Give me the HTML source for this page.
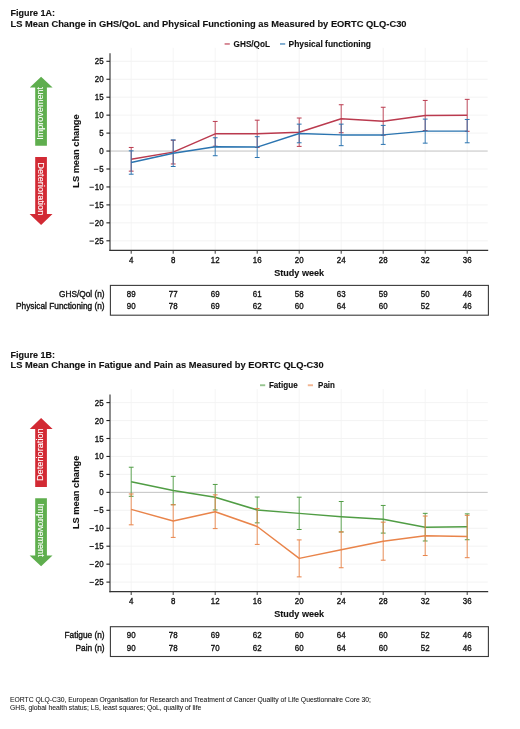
<!DOCTYPE html>
<html><head><meta charset="utf-8"><title>Figure 1</title>
<style>html,body{margin:0;padding:0;background:#fff;} svg{display:block;filter:blur(0.3px);} text{stroke:#111;stroke-width:0.35px;} text[fill='#fff']{stroke:#fff;stroke-width:0.1px;} text.fn{stroke-width:0.05px;} text[font-weight='bold']{stroke-width:0.12px;}</style></head>
<body>
<svg width="520" height="729" viewBox="0 0 520 729" font-family="'Liberation Sans', sans-serif" fill="#111">
<rect width="520" height="729" fill="#fff"/>
<text x="10.5" y="16.40" font-size="9.6" font-weight="bold" textLength="44.6" lengthAdjust="spacingAndGlyphs">Figure 1A:</text>
<text x="10.5" y="27.00" font-size="9.6" font-weight="bold" textLength="396.0" lengthAdjust="spacingAndGlyphs">LS Mean Change in GHS/QoL and Physical Functioning as Measured by EORTC QLQ-C30</text>
<rect x="224.6" y="43.00" width="5.2" height="1.9" fill="#ba3a4e" opacity="0.6"/>
<text x="233.6" y="46.80" font-size="8.6" font-weight="bold" textLength="36.4" lengthAdjust="spacingAndGlyphs">GHS/QoL</text>
<rect x="280.0" y="43.00" width="5.2" height="1.9" fill="#2a74b0" opacity="0.6"/>
<text x="288.5" y="46.80" font-size="8.6" font-weight="bold" textLength="82.5" lengthAdjust="spacingAndGlyphs">Physical functioning</text>
<line x1="110.0" x2="487.7" y1="240.80" y2="240.80" stroke="#f0f0f0" stroke-width="0.8"/>
<line x1="110.0" x2="487.7" y1="222.85" y2="222.85" stroke="#f0f0f0" stroke-width="0.8"/>
<line x1="110.0" x2="487.7" y1="204.90" y2="204.90" stroke="#f0f0f0" stroke-width="0.8"/>
<line x1="110.0" x2="487.7" y1="186.95" y2="186.95" stroke="#f0f0f0" stroke-width="0.8"/>
<line x1="110.0" x2="487.7" y1="169.00" y2="169.00" stroke="#f0f0f0" stroke-width="0.8"/>
<line x1="110.0" x2="487.7" y1="133.10" y2="133.10" stroke="#f0f0f0" stroke-width="0.8"/>
<line x1="110.0" x2="487.7" y1="115.15" y2="115.15" stroke="#f0f0f0" stroke-width="0.8"/>
<line x1="110.0" x2="487.7" y1="97.20" y2="97.20" stroke="#f0f0f0" stroke-width="0.8"/>
<line x1="110.0" x2="487.7" y1="79.25" y2="79.25" stroke="#f0f0f0" stroke-width="0.8"/>
<line x1="110.0" x2="487.7" y1="61.30" y2="61.30" stroke="#f0f0f0" stroke-width="0.8"/>
<line x1="131.20" x2="131.20" y1="47.80" y2="250.30" stroke="#f2f2f2" stroke-width="0.8"/>
<line x1="173.20" x2="173.20" y1="47.80" y2="250.30" stroke="#f2f2f2" stroke-width="0.8"/>
<line x1="215.20" x2="215.20" y1="47.80" y2="250.30" stroke="#f2f2f2" stroke-width="0.8"/>
<line x1="257.20" x2="257.20" y1="47.80" y2="250.30" stroke="#f2f2f2" stroke-width="0.8"/>
<line x1="299.20" x2="299.20" y1="47.80" y2="250.30" stroke="#f2f2f2" stroke-width="0.8"/>
<line x1="341.20" x2="341.20" y1="47.80" y2="250.30" stroke="#f2f2f2" stroke-width="0.8"/>
<line x1="383.20" x2="383.20" y1="47.80" y2="250.30" stroke="#f2f2f2" stroke-width="0.8"/>
<line x1="425.20" x2="425.20" y1="47.80" y2="250.30" stroke="#f2f2f2" stroke-width="0.8"/>
<line x1="467.20" x2="467.20" y1="47.80" y2="250.30" stroke="#f2f2f2" stroke-width="0.8"/>
<line x1="110.0" x2="487.7" y1="151.05" y2="151.05" stroke="#c2c2c2" stroke-width="1"/>
<line x1="131.20" x2="131.20" y1="147.46" y2="171.15" stroke="#ba3a4e" stroke-width="0.9"/>
<line x1="128.80" x2="133.60" y1="147.46" y2="147.46" stroke="#ba3a4e" stroke-width="1"/>
<line x1="128.80" x2="133.60" y1="171.15" y2="171.15" stroke="#ba3a4e" stroke-width="1"/>
<line x1="173.20" x2="173.20" y1="140.28" y2="163.97" stroke="#ba3a4e" stroke-width="0.9"/>
<line x1="170.80" x2="175.60" y1="140.28" y2="140.28" stroke="#ba3a4e" stroke-width="1"/>
<line x1="170.80" x2="175.60" y1="163.97" y2="163.97" stroke="#ba3a4e" stroke-width="1"/>
<line x1="215.20" x2="215.20" y1="121.43" y2="146.20" stroke="#ba3a4e" stroke-width="0.9"/>
<line x1="212.80" x2="217.60" y1="121.43" y2="121.43" stroke="#ba3a4e" stroke-width="1"/>
<line x1="212.80" x2="217.60" y1="146.20" y2="146.20" stroke="#ba3a4e" stroke-width="1"/>
<line x1="257.20" x2="257.20" y1="120.18" y2="147.46" stroke="#ba3a4e" stroke-width="0.9"/>
<line x1="254.80" x2="259.60" y1="120.18" y2="120.18" stroke="#ba3a4e" stroke-width="1"/>
<line x1="254.80" x2="259.60" y1="147.46" y2="147.46" stroke="#ba3a4e" stroke-width="1"/>
<line x1="299.20" x2="299.20" y1="118.02" y2="146.38" stroke="#ba3a4e" stroke-width="0.9"/>
<line x1="296.80" x2="301.60" y1="118.02" y2="118.02" stroke="#ba3a4e" stroke-width="1"/>
<line x1="296.80" x2="301.60" y1="146.38" y2="146.38" stroke="#ba3a4e" stroke-width="1"/>
<line x1="341.20" x2="341.20" y1="104.74" y2="132.74" stroke="#ba3a4e" stroke-width="0.9"/>
<line x1="338.80" x2="343.60" y1="104.74" y2="104.74" stroke="#ba3a4e" stroke-width="1"/>
<line x1="338.80" x2="343.60" y1="132.74" y2="132.74" stroke="#ba3a4e" stroke-width="1"/>
<line x1="383.20" x2="383.20" y1="107.25" y2="135.25" stroke="#ba3a4e" stroke-width="0.9"/>
<line x1="380.80" x2="385.60" y1="107.25" y2="107.25" stroke="#ba3a4e" stroke-width="1"/>
<line x1="380.80" x2="385.60" y1="135.25" y2="135.25" stroke="#ba3a4e" stroke-width="1"/>
<line x1="425.20" x2="425.20" y1="100.43" y2="130.59" stroke="#ba3a4e" stroke-width="0.9"/>
<line x1="422.80" x2="427.60" y1="100.43" y2="100.43" stroke="#ba3a4e" stroke-width="1"/>
<line x1="422.80" x2="427.60" y1="130.59" y2="130.59" stroke="#ba3a4e" stroke-width="1"/>
<line x1="467.20" x2="467.20" y1="99.35" y2="131.31" stroke="#ba3a4e" stroke-width="0.9"/>
<line x1="464.80" x2="469.60" y1="99.35" y2="99.35" stroke="#ba3a4e" stroke-width="1"/>
<line x1="464.80" x2="469.60" y1="131.31" y2="131.31" stroke="#ba3a4e" stroke-width="1"/>
<polyline points="131.20,159.31 173.20,152.13 215.20,133.82 257.20,133.82 299.20,132.20 341.20,118.74 383.20,121.25 425.20,115.51 467.20,115.33" fill="none" stroke="#ba3a4e" stroke-width="1.45" stroke-linejoin="round"/>
<line x1="131.20" x2="131.20" y1="150.87" y2="174.21" stroke="#2a74b0" stroke-width="0.9"/>
<line x1="128.80" x2="133.60" y1="150.87" y2="150.87" stroke="#2a74b0" stroke-width="1"/>
<line x1="128.80" x2="133.60" y1="174.21" y2="174.21" stroke="#2a74b0" stroke-width="1"/>
<line x1="173.20" x2="173.20" y1="139.92" y2="166.49" stroke="#2a74b0" stroke-width="0.9"/>
<line x1="170.80" x2="175.60" y1="139.92" y2="139.92" stroke="#2a74b0" stroke-width="1"/>
<line x1="170.80" x2="175.60" y1="166.49" y2="166.49" stroke="#2a74b0" stroke-width="1"/>
<line x1="215.20" x2="215.20" y1="137.77" y2="155.72" stroke="#2a74b0" stroke-width="0.9"/>
<line x1="212.80" x2="217.60" y1="137.77" y2="137.77" stroke="#2a74b0" stroke-width="1"/>
<line x1="212.80" x2="217.60" y1="155.72" y2="155.72" stroke="#2a74b0" stroke-width="1"/>
<line x1="257.20" x2="257.20" y1="136.69" y2="157.51" stroke="#2a74b0" stroke-width="0.9"/>
<line x1="254.80" x2="259.60" y1="136.69" y2="136.69" stroke="#2a74b0" stroke-width="1"/>
<line x1="254.80" x2="259.60" y1="157.51" y2="157.51" stroke="#2a74b0" stroke-width="1"/>
<line x1="299.20" x2="299.20" y1="124.13" y2="142.79" stroke="#2a74b0" stroke-width="0.9"/>
<line x1="296.80" x2="301.60" y1="124.13" y2="124.13" stroke="#2a74b0" stroke-width="1"/>
<line x1="296.80" x2="301.60" y1="142.79" y2="142.79" stroke="#2a74b0" stroke-width="1"/>
<line x1="341.20" x2="341.20" y1="124.13" y2="145.67" stroke="#2a74b0" stroke-width="0.9"/>
<line x1="338.80" x2="343.60" y1="124.13" y2="124.13" stroke="#2a74b0" stroke-width="1"/>
<line x1="338.80" x2="343.60" y1="145.67" y2="145.67" stroke="#2a74b0" stroke-width="1"/>
<line x1="383.20" x2="383.20" y1="125.38" y2="144.41" stroke="#2a74b0" stroke-width="0.9"/>
<line x1="380.80" x2="385.60" y1="125.38" y2="125.38" stroke="#2a74b0" stroke-width="1"/>
<line x1="380.80" x2="385.60" y1="144.41" y2="144.41" stroke="#2a74b0" stroke-width="1"/>
<line x1="425.20" x2="425.20" y1="119.10" y2="143.15" stroke="#2a74b0" stroke-width="0.9"/>
<line x1="422.80" x2="427.60" y1="119.10" y2="119.10" stroke="#2a74b0" stroke-width="1"/>
<line x1="422.80" x2="427.60" y1="143.15" y2="143.15" stroke="#2a74b0" stroke-width="1"/>
<line x1="467.20" x2="467.20" y1="119.46" y2="142.79" stroke="#2a74b0" stroke-width="0.9"/>
<line x1="464.80" x2="469.60" y1="119.46" y2="119.46" stroke="#2a74b0" stroke-width="1"/>
<line x1="464.80" x2="469.60" y1="142.79" y2="142.79" stroke="#2a74b0" stroke-width="1"/>
<polyline points="131.20,162.54 173.20,153.20 215.20,146.74 257.20,147.10 299.20,133.46 341.20,134.90 383.20,134.90 425.20,131.13 467.20,131.13" fill="none" stroke="#2a74b0" stroke-width="1.45" stroke-linejoin="round"/>
<line x1="110.0" x2="110.0" y1="53.30" y2="250.90" stroke="#666" stroke-width="1.5"/>
<line x1="109.4" x2="488.2" y1="250.30" y2="250.30" stroke="#333" stroke-width="1.3"/>
<line x1="106.4" x2="110.0" y1="240.80" y2="240.80" stroke="#222" stroke-width="1.1"/>
<text transform="translate(103.6 243.80) scale(0.9 1)" font-size="8.8" text-anchor="end">25</text>
<line x1="89.50" x2="93.90" y1="241.10" y2="241.10" stroke="#111" stroke-width="0.9"/>
<line x1="106.4" x2="110.0" y1="222.85" y2="222.85" stroke="#222" stroke-width="1.1"/>
<text transform="translate(103.6 225.85) scale(0.9 1)" font-size="8.8" text-anchor="end">20</text>
<line x1="89.50" x2="93.90" y1="223.15" y2="223.15" stroke="#111" stroke-width="0.9"/>
<line x1="106.4" x2="110.0" y1="204.90" y2="204.90" stroke="#222" stroke-width="1.1"/>
<text transform="translate(103.6 207.90) scale(0.9 1)" font-size="8.8" text-anchor="end">15</text>
<line x1="89.50" x2="93.90" y1="205.20" y2="205.20" stroke="#111" stroke-width="0.9"/>
<line x1="106.4" x2="110.0" y1="186.95" y2="186.95" stroke="#222" stroke-width="1.1"/>
<text transform="translate(103.6 189.95) scale(0.9 1)" font-size="8.8" text-anchor="end">10</text>
<line x1="89.50" x2="93.90" y1="187.25" y2="187.25" stroke="#111" stroke-width="0.9"/>
<line x1="106.4" x2="110.0" y1="169.00" y2="169.00" stroke="#222" stroke-width="1.1"/>
<text transform="translate(103.6 172.00) scale(0.9 1)" font-size="8.8" text-anchor="end">5</text>
<line x1="93.90" x2="98.30" y1="169.30" y2="169.30" stroke="#111" stroke-width="0.9"/>
<line x1="106.4" x2="110.0" y1="151.05" y2="151.05" stroke="#222" stroke-width="1.1"/>
<text transform="translate(103.6 154.05) scale(0.9 1)" font-size="8.8" text-anchor="end">0</text>
<line x1="106.4" x2="110.0" y1="133.10" y2="133.10" stroke="#222" stroke-width="1.1"/>
<text transform="translate(103.6 136.10) scale(0.9 1)" font-size="8.8" text-anchor="end">5</text>
<line x1="106.4" x2="110.0" y1="115.15" y2="115.15" stroke="#222" stroke-width="1.1"/>
<text transform="translate(103.6 118.15) scale(0.9 1)" font-size="8.8" text-anchor="end">10</text>
<line x1="106.4" x2="110.0" y1="97.20" y2="97.20" stroke="#222" stroke-width="1.1"/>
<text transform="translate(103.6 100.20) scale(0.9 1)" font-size="8.8" text-anchor="end">15</text>
<line x1="106.4" x2="110.0" y1="79.25" y2="79.25" stroke="#222" stroke-width="1.1"/>
<text transform="translate(103.6 82.25) scale(0.9 1)" font-size="8.8" text-anchor="end">20</text>
<line x1="106.4" x2="110.0" y1="61.30" y2="61.30" stroke="#222" stroke-width="1.1"/>
<text transform="translate(103.6 64.30) scale(0.9 1)" font-size="8.8" text-anchor="end">25</text>
<line x1="131.20" x2="131.20" y1="250.30" y2="253.70" stroke="#3a3a3a" stroke-width="1"/>
<text transform="translate(131.20 262.50) scale(0.9 1)" font-size="8.8" text-anchor="middle">4</text>
<line x1="173.20" x2="173.20" y1="250.30" y2="253.70" stroke="#3a3a3a" stroke-width="1"/>
<text transform="translate(173.20 262.50) scale(0.9 1)" font-size="8.8" text-anchor="middle">8</text>
<line x1="215.20" x2="215.20" y1="250.30" y2="253.70" stroke="#3a3a3a" stroke-width="1"/>
<text transform="translate(215.20 262.50) scale(0.9 1)" font-size="8.8" text-anchor="middle">12</text>
<line x1="257.20" x2="257.20" y1="250.30" y2="253.70" stroke="#3a3a3a" stroke-width="1"/>
<text transform="translate(257.20 262.50) scale(0.9 1)" font-size="8.8" text-anchor="middle">16</text>
<line x1="299.20" x2="299.20" y1="250.30" y2="253.70" stroke="#3a3a3a" stroke-width="1"/>
<text transform="translate(299.20 262.50) scale(0.9 1)" font-size="8.8" text-anchor="middle">20</text>
<line x1="341.20" x2="341.20" y1="250.30" y2="253.70" stroke="#3a3a3a" stroke-width="1"/>
<text transform="translate(341.20 262.50) scale(0.9 1)" font-size="8.8" text-anchor="middle">24</text>
<line x1="383.20" x2="383.20" y1="250.30" y2="253.70" stroke="#3a3a3a" stroke-width="1"/>
<text transform="translate(383.20 262.50) scale(0.9 1)" font-size="8.8" text-anchor="middle">28</text>
<line x1="425.20" x2="425.20" y1="250.30" y2="253.70" stroke="#3a3a3a" stroke-width="1"/>
<text transform="translate(425.20 262.50) scale(0.9 1)" font-size="8.8" text-anchor="middle">32</text>
<line x1="467.20" x2="467.20" y1="250.30" y2="253.70" stroke="#3a3a3a" stroke-width="1"/>
<text transform="translate(467.20 262.50) scale(0.9 1)" font-size="8.8" text-anchor="middle">36</text>
<text x="299.2" y="275.80" font-size="9.2" font-weight="bold" text-anchor="middle" textLength="50" lengthAdjust="spacingAndGlyphs">Study week</text>
<text transform="translate(79.1 151.05) rotate(-90)" font-size="9.3" font-weight="bold" text-anchor="middle" textLength="73.4" lengthAdjust="spacingAndGlyphs">LS mean change</text>
<rect x="110.4" y="285.40" width="378" height="29.8" fill="none" stroke="#3a3a3a" stroke-width="1.1"/>
<text x="104.6" y="296.80" font-size="8.3" text-anchor="end">GHS/Qol (n)</text>
<text transform="translate(131.20 296.80) scale(0.9 1)" font-size="8.8" text-anchor="middle">89</text>
<text transform="translate(173.20 296.80) scale(0.9 1)" font-size="8.8" text-anchor="middle">77</text>
<text transform="translate(215.20 296.80) scale(0.9 1)" font-size="8.8" text-anchor="middle">69</text>
<text transform="translate(257.20 296.80) scale(0.9 1)" font-size="8.8" text-anchor="middle">61</text>
<text transform="translate(299.20 296.80) scale(0.9 1)" font-size="8.8" text-anchor="middle">58</text>
<text transform="translate(341.20 296.80) scale(0.9 1)" font-size="8.8" text-anchor="middle">63</text>
<text transform="translate(383.20 296.80) scale(0.9 1)" font-size="8.8" text-anchor="middle">59</text>
<text transform="translate(425.20 296.80) scale(0.9 1)" font-size="8.8" text-anchor="middle">50</text>
<text transform="translate(467.20 296.80) scale(0.9 1)" font-size="8.8" text-anchor="middle">46</text>
<text x="104.6" y="309.20" font-size="8.3" text-anchor="end">Physical Functioning (n)</text>
<text transform="translate(131.20 309.20) scale(0.9 1)" font-size="8.8" text-anchor="middle">90</text>
<text transform="translate(173.20 309.20) scale(0.9 1)" font-size="8.8" text-anchor="middle">78</text>
<text transform="translate(215.20 309.20) scale(0.9 1)" font-size="8.8" text-anchor="middle">69</text>
<text transform="translate(257.20 309.20) scale(0.9 1)" font-size="8.8" text-anchor="middle">62</text>
<text transform="translate(299.20 309.20) scale(0.9 1)" font-size="8.8" text-anchor="middle">60</text>
<text transform="translate(341.20 309.20) scale(0.9 1)" font-size="8.8" text-anchor="middle">64</text>
<text transform="translate(383.20 309.20) scale(0.9 1)" font-size="8.8" text-anchor="middle">60</text>
<text transform="translate(425.20 309.20) scale(0.9 1)" font-size="8.8" text-anchor="middle">52</text>
<text transform="translate(467.20 309.20) scale(0.9 1)" font-size="8.8" text-anchor="middle">46</text>
<polygon points="41.1,76.80 52.6,87.60 46.9,87.60 46.9,145.70 35.2,145.70 35.2,87.60 29.8,87.60" fill="#5fae4e"/>
<text transform="translate(43.4 113.40) rotate(-90)" font-size="8.7" fill="#fff" text-anchor="middle" textLength="52.8" lengthAdjust="spacingAndGlyphs">Improvement</text>
<polygon points="35.2,156.90 46.9,156.90 46.9,214.10 52.5,214.10 41.1,225.00 29.6,214.10 35.2,214.10" fill="#d22a34"/>
<text transform="translate(38.3 188.80) rotate(90)" font-size="8.7" fill="#fff" text-anchor="middle" textLength="53.2" lengthAdjust="spacingAndGlyphs">Deterioration</text>
<text x="10.5" y="357.70" font-size="9.6" font-weight="bold" textLength="44.6" lengthAdjust="spacingAndGlyphs">Figure 1B:</text>
<text x="10.5" y="368.30" font-size="9.6" font-weight="bold" textLength="313.2" lengthAdjust="spacingAndGlyphs">LS Mean Change in Fatigue and Pain as Measured by EORTC QLQ-C30</text>
<rect x="260.0" y="384.30" width="5.2" height="1.9" fill="#509d44" opacity="0.6"/>
<text x="268.9" y="388.10" font-size="8.6" font-weight="bold" textLength="28.8" lengthAdjust="spacingAndGlyphs">Fatigue</text>
<rect x="307.8" y="384.30" width="5.2" height="1.9" fill="#e9844a" opacity="0.6"/>
<text x="318.1" y="388.10" font-size="8.6" font-weight="bold" textLength="16.8" lengthAdjust="spacingAndGlyphs">Pain</text>
<line x1="110.0" x2="487.7" y1="582.10" y2="582.10" stroke="#f0f0f0" stroke-width="0.8"/>
<line x1="110.0" x2="487.7" y1="564.15" y2="564.15" stroke="#f0f0f0" stroke-width="0.8"/>
<line x1="110.0" x2="487.7" y1="546.20" y2="546.20" stroke="#f0f0f0" stroke-width="0.8"/>
<line x1="110.0" x2="487.7" y1="528.25" y2="528.25" stroke="#f0f0f0" stroke-width="0.8"/>
<line x1="110.0" x2="487.7" y1="510.30" y2="510.30" stroke="#f0f0f0" stroke-width="0.8"/>
<line x1="110.0" x2="487.7" y1="474.40" y2="474.40" stroke="#f0f0f0" stroke-width="0.8"/>
<line x1="110.0" x2="487.7" y1="456.45" y2="456.45" stroke="#f0f0f0" stroke-width="0.8"/>
<line x1="110.0" x2="487.7" y1="438.50" y2="438.50" stroke="#f0f0f0" stroke-width="0.8"/>
<line x1="110.0" x2="487.7" y1="420.55" y2="420.55" stroke="#f0f0f0" stroke-width="0.8"/>
<line x1="110.0" x2="487.7" y1="402.60" y2="402.60" stroke="#f0f0f0" stroke-width="0.8"/>
<line x1="131.20" x2="131.20" y1="389.10" y2="591.60" stroke="#f2f2f2" stroke-width="0.8"/>
<line x1="173.20" x2="173.20" y1="389.10" y2="591.60" stroke="#f2f2f2" stroke-width="0.8"/>
<line x1="215.20" x2="215.20" y1="389.10" y2="591.60" stroke="#f2f2f2" stroke-width="0.8"/>
<line x1="257.20" x2="257.20" y1="389.10" y2="591.60" stroke="#f2f2f2" stroke-width="0.8"/>
<line x1="299.20" x2="299.20" y1="389.10" y2="591.60" stroke="#f2f2f2" stroke-width="0.8"/>
<line x1="341.20" x2="341.20" y1="389.10" y2="591.60" stroke="#f2f2f2" stroke-width="0.8"/>
<line x1="383.20" x2="383.20" y1="389.10" y2="591.60" stroke="#f2f2f2" stroke-width="0.8"/>
<line x1="425.20" x2="425.20" y1="389.10" y2="591.60" stroke="#f2f2f2" stroke-width="0.8"/>
<line x1="467.20" x2="467.20" y1="389.10" y2="591.60" stroke="#f2f2f2" stroke-width="0.8"/>
<line x1="110.0" x2="487.7" y1="492.35" y2="492.35" stroke="#c2c2c2" stroke-width="1"/>
<line x1="131.20" x2="131.20" y1="467.22" y2="496.30" stroke="#509d44" stroke-width="0.9"/>
<line x1="128.80" x2="133.60" y1="467.22" y2="467.22" stroke="#509d44" stroke-width="1"/>
<line x1="128.80" x2="133.60" y1="496.30" y2="496.30" stroke="#509d44" stroke-width="1"/>
<line x1="173.20" x2="173.20" y1="476.37" y2="504.74" stroke="#509d44" stroke-width="0.9"/>
<line x1="170.80" x2="175.60" y1="476.37" y2="476.37" stroke="#509d44" stroke-width="1"/>
<line x1="170.80" x2="175.60" y1="504.74" y2="504.74" stroke="#509d44" stroke-width="1"/>
<line x1="215.20" x2="215.20" y1="484.45" y2="509.94" stroke="#509d44" stroke-width="0.9"/>
<line x1="212.80" x2="217.60" y1="484.45" y2="484.45" stroke="#509d44" stroke-width="1"/>
<line x1="212.80" x2="217.60" y1="509.94" y2="509.94" stroke="#509d44" stroke-width="1"/>
<line x1="257.20" x2="257.20" y1="497.02" y2="522.87" stroke="#509d44" stroke-width="0.9"/>
<line x1="254.80" x2="259.60" y1="497.02" y2="497.02" stroke="#509d44" stroke-width="1"/>
<line x1="254.80" x2="259.60" y1="522.87" y2="522.87" stroke="#509d44" stroke-width="1"/>
<line x1="299.20" x2="299.20" y1="497.20" y2="529.51" stroke="#509d44" stroke-width="0.9"/>
<line x1="296.80" x2="301.60" y1="497.20" y2="497.20" stroke="#509d44" stroke-width="1"/>
<line x1="296.80" x2="301.60" y1="529.51" y2="529.51" stroke="#509d44" stroke-width="1"/>
<line x1="341.20" x2="341.20" y1="501.50" y2="532.02" stroke="#509d44" stroke-width="0.9"/>
<line x1="338.80" x2="343.60" y1="501.50" y2="501.50" stroke="#509d44" stroke-width="1"/>
<line x1="338.80" x2="343.60" y1="532.02" y2="532.02" stroke="#509d44" stroke-width="1"/>
<line x1="383.20" x2="383.20" y1="505.45" y2="533.10" stroke="#509d44" stroke-width="0.9"/>
<line x1="380.80" x2="385.60" y1="505.45" y2="505.45" stroke="#509d44" stroke-width="1"/>
<line x1="380.80" x2="385.60" y1="533.10" y2="533.10" stroke="#509d44" stroke-width="1"/>
<line x1="425.20" x2="425.20" y1="513.35" y2="540.99" stroke="#509d44" stroke-width="0.9"/>
<line x1="422.80" x2="427.60" y1="513.35" y2="513.35" stroke="#509d44" stroke-width="1"/>
<line x1="422.80" x2="427.60" y1="540.99" y2="540.99" stroke="#509d44" stroke-width="1"/>
<line x1="467.20" x2="467.20" y1="513.89" y2="539.74" stroke="#509d44" stroke-width="0.9"/>
<line x1="464.80" x2="469.60" y1="513.89" y2="513.89" stroke="#509d44" stroke-width="1"/>
<line x1="464.80" x2="469.60" y1="539.74" y2="539.74" stroke="#509d44" stroke-width="1"/>
<polyline points="131.20,481.76 173.20,490.56 215.20,497.20 257.20,509.94 299.20,513.35 341.20,516.76 383.20,519.27 425.20,527.17 467.20,526.81" fill="none" stroke="#509d44" stroke-width="1.45" stroke-linejoin="round"/>
<line x1="131.20" x2="131.20" y1="493.97" y2="524.84" stroke="#e9844a" stroke-width="0.9"/>
<line x1="128.80" x2="133.60" y1="493.97" y2="493.97" stroke="#e9844a" stroke-width="1"/>
<line x1="128.80" x2="133.60" y1="524.84" y2="524.84" stroke="#e9844a" stroke-width="1"/>
<line x1="173.20" x2="173.20" y1="504.74" y2="537.40" stroke="#e9844a" stroke-width="0.9"/>
<line x1="170.80" x2="175.60" y1="504.74" y2="504.74" stroke="#e9844a" stroke-width="1"/>
<line x1="170.80" x2="175.60" y1="537.40" y2="537.40" stroke="#e9844a" stroke-width="1"/>
<line x1="215.20" x2="215.20" y1="494.86" y2="528.61" stroke="#e9844a" stroke-width="0.9"/>
<line x1="212.80" x2="217.60" y1="494.86" y2="494.86" stroke="#e9844a" stroke-width="1"/>
<line x1="212.80" x2="217.60" y1="528.61" y2="528.61" stroke="#e9844a" stroke-width="1"/>
<line x1="257.20" x2="257.20" y1="508.50" y2="544.40" stroke="#e9844a" stroke-width="0.9"/>
<line x1="254.80" x2="259.60" y1="508.50" y2="508.50" stroke="#e9844a" stroke-width="1"/>
<line x1="254.80" x2="259.60" y1="544.40" y2="544.40" stroke="#e9844a" stroke-width="1"/>
<line x1="299.20" x2="299.20" y1="539.92" y2="576.89" stroke="#e9844a" stroke-width="0.9"/>
<line x1="296.80" x2="301.60" y1="539.92" y2="539.92" stroke="#e9844a" stroke-width="1"/>
<line x1="296.80" x2="301.60" y1="576.89" y2="576.89" stroke="#e9844a" stroke-width="1"/>
<line x1="341.20" x2="341.20" y1="531.84" y2="567.74" stroke="#e9844a" stroke-width="0.9"/>
<line x1="338.80" x2="343.60" y1="531.84" y2="531.84" stroke="#e9844a" stroke-width="1"/>
<line x1="338.80" x2="343.60" y1="567.74" y2="567.74" stroke="#e9844a" stroke-width="1"/>
<line x1="383.20" x2="383.20" y1="522.15" y2="560.20" stroke="#e9844a" stroke-width="0.9"/>
<line x1="380.80" x2="385.60" y1="522.15" y2="522.15" stroke="#e9844a" stroke-width="1"/>
<line x1="380.80" x2="385.60" y1="560.20" y2="560.20" stroke="#e9844a" stroke-width="1"/>
<line x1="425.20" x2="425.20" y1="516.04" y2="555.53" stroke="#e9844a" stroke-width="0.9"/>
<line x1="422.80" x2="427.60" y1="516.04" y2="516.04" stroke="#e9844a" stroke-width="1"/>
<line x1="422.80" x2="427.60" y1="555.53" y2="555.53" stroke="#e9844a" stroke-width="1"/>
<line x1="467.20" x2="467.20" y1="515.33" y2="557.69" stroke="#e9844a" stroke-width="0.9"/>
<line x1="464.80" x2="469.60" y1="515.33" y2="515.33" stroke="#e9844a" stroke-width="1"/>
<line x1="464.80" x2="469.60" y1="557.69" y2="557.69" stroke="#e9844a" stroke-width="1"/>
<polyline points="131.20,509.40 173.20,521.07 215.20,511.74 257.20,526.46 299.20,558.41 341.20,549.79 383.20,541.17 425.20,535.79 467.20,536.51" fill="none" stroke="#e9844a" stroke-width="1.45" stroke-linejoin="round"/>
<line x1="110.0" x2="110.0" y1="394.60" y2="592.20" stroke="#666" stroke-width="1.5"/>
<line x1="109.4" x2="488.2" y1="591.60" y2="591.60" stroke="#333" stroke-width="1.3"/>
<line x1="106.4" x2="110.0" y1="582.10" y2="582.10" stroke="#222" stroke-width="1.1"/>
<text transform="translate(103.6 585.10) scale(0.9 1)" font-size="8.8" text-anchor="end">25</text>
<line x1="89.50" x2="93.90" y1="582.40" y2="582.40" stroke="#111" stroke-width="0.9"/>
<line x1="106.4" x2="110.0" y1="564.15" y2="564.15" stroke="#222" stroke-width="1.1"/>
<text transform="translate(103.6 567.15) scale(0.9 1)" font-size="8.8" text-anchor="end">20</text>
<line x1="89.50" x2="93.90" y1="564.45" y2="564.45" stroke="#111" stroke-width="0.9"/>
<line x1="106.4" x2="110.0" y1="546.20" y2="546.20" stroke="#222" stroke-width="1.1"/>
<text transform="translate(103.6 549.20) scale(0.9 1)" font-size="8.8" text-anchor="end">15</text>
<line x1="89.50" x2="93.90" y1="546.50" y2="546.50" stroke="#111" stroke-width="0.9"/>
<line x1="106.4" x2="110.0" y1="528.25" y2="528.25" stroke="#222" stroke-width="1.1"/>
<text transform="translate(103.6 531.25) scale(0.9 1)" font-size="8.8" text-anchor="end">10</text>
<line x1="89.50" x2="93.90" y1="528.55" y2="528.55" stroke="#111" stroke-width="0.9"/>
<line x1="106.4" x2="110.0" y1="510.30" y2="510.30" stroke="#222" stroke-width="1.1"/>
<text transform="translate(103.6 513.30) scale(0.9 1)" font-size="8.8" text-anchor="end">5</text>
<line x1="93.90" x2="98.30" y1="510.60" y2="510.60" stroke="#111" stroke-width="0.9"/>
<line x1="106.4" x2="110.0" y1="492.35" y2="492.35" stroke="#222" stroke-width="1.1"/>
<text transform="translate(103.6 495.35) scale(0.9 1)" font-size="8.8" text-anchor="end">0</text>
<line x1="106.4" x2="110.0" y1="474.40" y2="474.40" stroke="#222" stroke-width="1.1"/>
<text transform="translate(103.6 477.40) scale(0.9 1)" font-size="8.8" text-anchor="end">5</text>
<line x1="106.4" x2="110.0" y1="456.45" y2="456.45" stroke="#222" stroke-width="1.1"/>
<text transform="translate(103.6 459.45) scale(0.9 1)" font-size="8.8" text-anchor="end">10</text>
<line x1="106.4" x2="110.0" y1="438.50" y2="438.50" stroke="#222" stroke-width="1.1"/>
<text transform="translate(103.6 441.50) scale(0.9 1)" font-size="8.8" text-anchor="end">15</text>
<line x1="106.4" x2="110.0" y1="420.55" y2="420.55" stroke="#222" stroke-width="1.1"/>
<text transform="translate(103.6 423.55) scale(0.9 1)" font-size="8.8" text-anchor="end">20</text>
<line x1="106.4" x2="110.0" y1="402.60" y2="402.60" stroke="#222" stroke-width="1.1"/>
<text transform="translate(103.6 405.60) scale(0.9 1)" font-size="8.8" text-anchor="end">25</text>
<line x1="131.20" x2="131.20" y1="591.60" y2="595.00" stroke="#3a3a3a" stroke-width="1"/>
<text transform="translate(131.20 603.80) scale(0.9 1)" font-size="8.8" text-anchor="middle">4</text>
<line x1="173.20" x2="173.20" y1="591.60" y2="595.00" stroke="#3a3a3a" stroke-width="1"/>
<text transform="translate(173.20 603.80) scale(0.9 1)" font-size="8.8" text-anchor="middle">8</text>
<line x1="215.20" x2="215.20" y1="591.60" y2="595.00" stroke="#3a3a3a" stroke-width="1"/>
<text transform="translate(215.20 603.80) scale(0.9 1)" font-size="8.8" text-anchor="middle">12</text>
<line x1="257.20" x2="257.20" y1="591.60" y2="595.00" stroke="#3a3a3a" stroke-width="1"/>
<text transform="translate(257.20 603.80) scale(0.9 1)" font-size="8.8" text-anchor="middle">16</text>
<line x1="299.20" x2="299.20" y1="591.60" y2="595.00" stroke="#3a3a3a" stroke-width="1"/>
<text transform="translate(299.20 603.80) scale(0.9 1)" font-size="8.8" text-anchor="middle">20</text>
<line x1="341.20" x2="341.20" y1="591.60" y2="595.00" stroke="#3a3a3a" stroke-width="1"/>
<text transform="translate(341.20 603.80) scale(0.9 1)" font-size="8.8" text-anchor="middle">24</text>
<line x1="383.20" x2="383.20" y1="591.60" y2="595.00" stroke="#3a3a3a" stroke-width="1"/>
<text transform="translate(383.20 603.80) scale(0.9 1)" font-size="8.8" text-anchor="middle">28</text>
<line x1="425.20" x2="425.20" y1="591.60" y2="595.00" stroke="#3a3a3a" stroke-width="1"/>
<text transform="translate(425.20 603.80) scale(0.9 1)" font-size="8.8" text-anchor="middle">32</text>
<line x1="467.20" x2="467.20" y1="591.60" y2="595.00" stroke="#3a3a3a" stroke-width="1"/>
<text transform="translate(467.20 603.80) scale(0.9 1)" font-size="8.8" text-anchor="middle">36</text>
<text x="299.2" y="617.10" font-size="9.2" font-weight="bold" text-anchor="middle" textLength="50" lengthAdjust="spacingAndGlyphs">Study week</text>
<text transform="translate(79.1 492.35) rotate(-90)" font-size="9.3" font-weight="bold" text-anchor="middle" textLength="73.4" lengthAdjust="spacingAndGlyphs">LS mean change</text>
<rect x="110.4" y="626.70" width="378" height="29.8" fill="none" stroke="#3a3a3a" stroke-width="1.1"/>
<text x="104.6" y="638.10" font-size="8.3" text-anchor="end">Fatigue (n)</text>
<text transform="translate(131.20 638.10) scale(0.9 1)" font-size="8.8" text-anchor="middle">90</text>
<text transform="translate(173.20 638.10) scale(0.9 1)" font-size="8.8" text-anchor="middle">78</text>
<text transform="translate(215.20 638.10) scale(0.9 1)" font-size="8.8" text-anchor="middle">69</text>
<text transform="translate(257.20 638.10) scale(0.9 1)" font-size="8.8" text-anchor="middle">62</text>
<text transform="translate(299.20 638.10) scale(0.9 1)" font-size="8.8" text-anchor="middle">60</text>
<text transform="translate(341.20 638.10) scale(0.9 1)" font-size="8.8" text-anchor="middle">64</text>
<text transform="translate(383.20 638.10) scale(0.9 1)" font-size="8.8" text-anchor="middle">60</text>
<text transform="translate(425.20 638.10) scale(0.9 1)" font-size="8.8" text-anchor="middle">52</text>
<text transform="translate(467.20 638.10) scale(0.9 1)" font-size="8.8" text-anchor="middle">46</text>
<text x="104.6" y="650.50" font-size="8.3" text-anchor="end">Pain (n)</text>
<text transform="translate(131.20 650.50) scale(0.9 1)" font-size="8.8" text-anchor="middle">90</text>
<text transform="translate(173.20 650.50) scale(0.9 1)" font-size="8.8" text-anchor="middle">78</text>
<text transform="translate(215.20 650.50) scale(0.9 1)" font-size="8.8" text-anchor="middle">70</text>
<text transform="translate(257.20 650.50) scale(0.9 1)" font-size="8.8" text-anchor="middle">62</text>
<text transform="translate(299.20 650.50) scale(0.9 1)" font-size="8.8" text-anchor="middle">60</text>
<text transform="translate(341.20 650.50) scale(0.9 1)" font-size="8.8" text-anchor="middle">64</text>
<text transform="translate(383.20 650.50) scale(0.9 1)" font-size="8.8" text-anchor="middle">60</text>
<text transform="translate(425.20 650.50) scale(0.9 1)" font-size="8.8" text-anchor="middle">52</text>
<text transform="translate(467.20 650.50) scale(0.9 1)" font-size="8.8" text-anchor="middle">46</text>
<polygon points="41.1,418.10 52.6,428.90 46.9,428.90 46.9,487.00 35.2,487.00 35.2,428.90 29.8,428.90" fill="#d22a34"/>
<text transform="translate(43.4 454.70) rotate(-90)" font-size="8.7" fill="#fff" text-anchor="middle" textLength="52.8" lengthAdjust="spacingAndGlyphs">Deterioration</text>
<polygon points="35.2,498.20 46.9,498.20 46.9,555.40 52.5,555.40 41.1,566.30 29.6,555.40 35.2,555.40" fill="#5fae4e"/>
<text transform="translate(38.3 530.10) rotate(90)" font-size="8.7" fill="#fff" text-anchor="middle" textLength="53.2" lengthAdjust="spacingAndGlyphs">Improvement</text>
<text class="fn" x="10" y="701.7" font-size="6.8" textLength="361" lengthAdjust="spacingAndGlyphs">EORTC QLQ-C30, European Organisation for Research and Treatment of Cancer Quality of Life Questionnaire Core 30;</text>
<text class="fn" x="10" y="709.8" font-size="6.8" textLength="191.3" lengthAdjust="spacingAndGlyphs">GHS, global health status; LS, least squares; QoL, quality of life</text>
</svg>
</body></html>
